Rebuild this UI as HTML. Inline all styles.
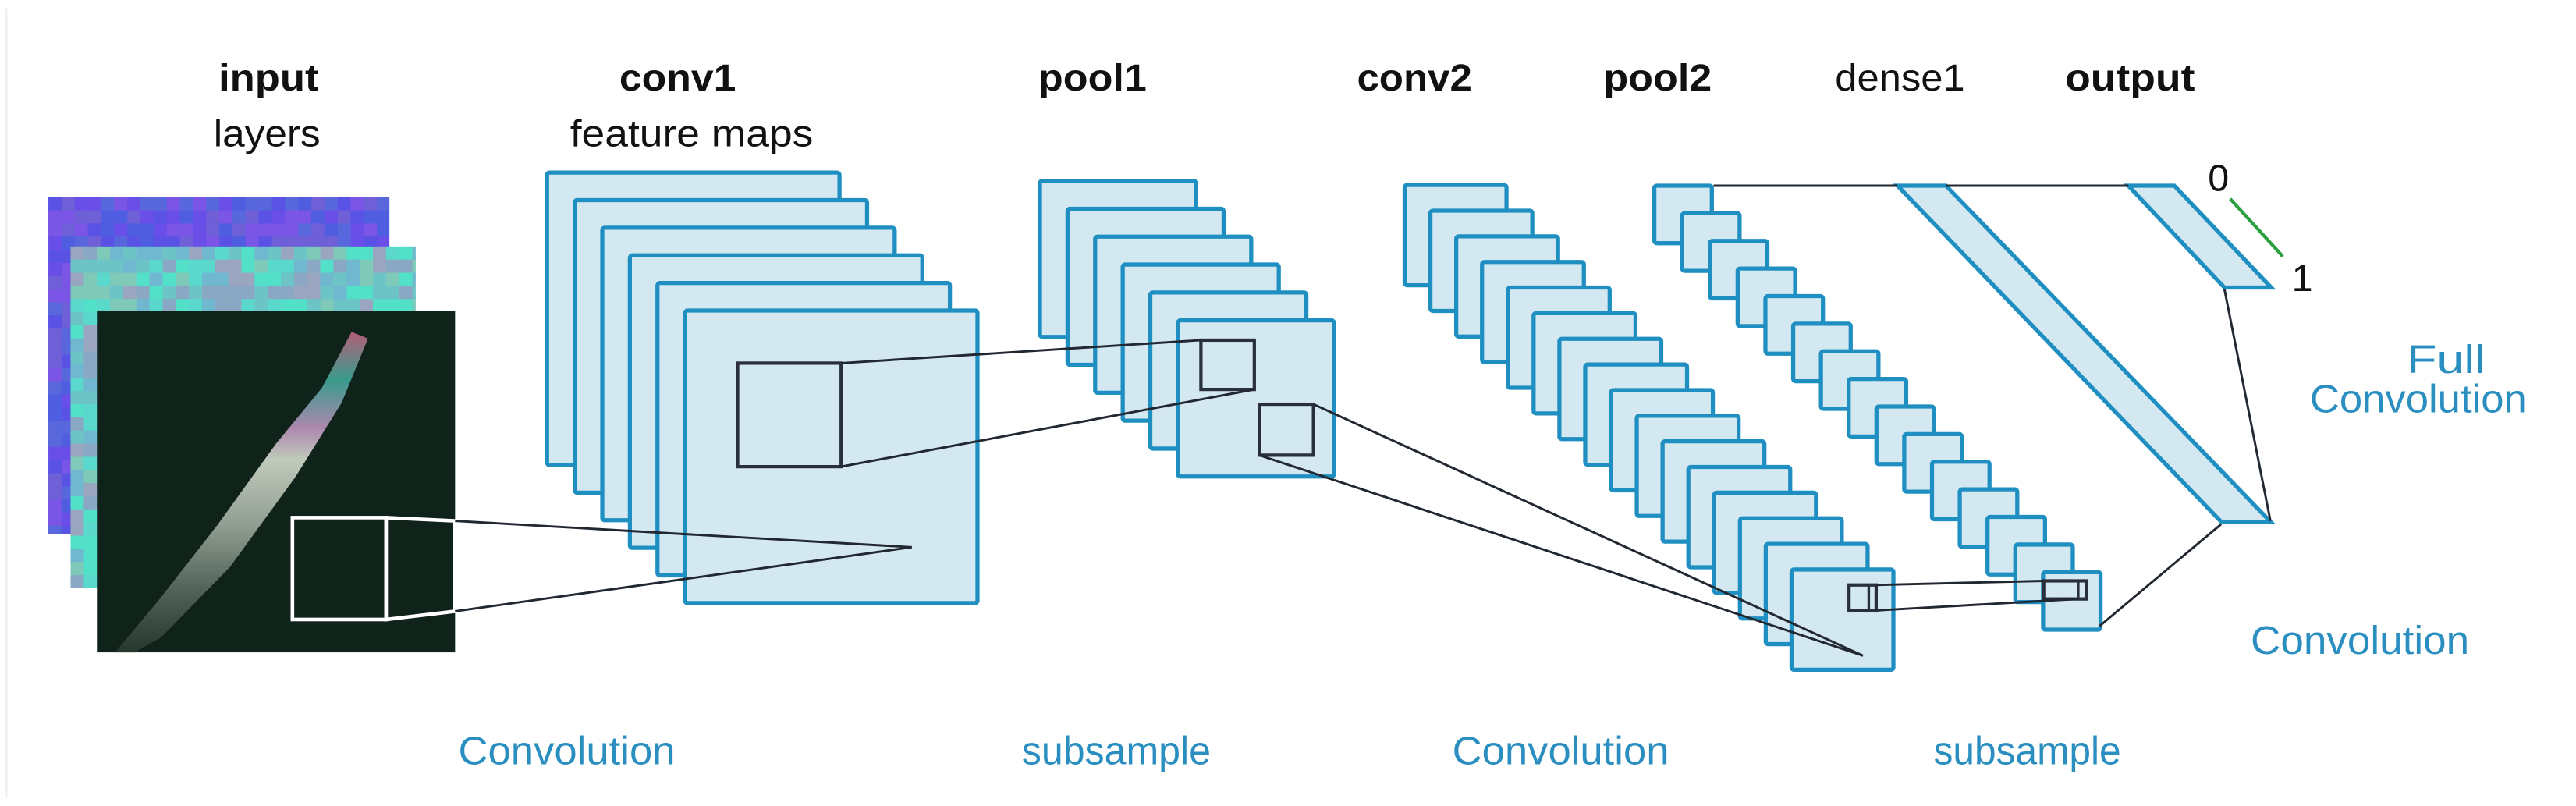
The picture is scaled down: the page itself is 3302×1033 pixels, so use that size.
<!DOCTYPE html>
<html><head><meta charset="utf-8">
<style>
html,body{margin:0;padding:0;background:#fff;}
svg{display:block;}
.t{font-family:"Liberation Sans",sans-serif;fill:#111;font-size:23px;}
.bd{font-weight:bold;}
.b{font-family:"Liberation Sans",sans-serif;fill:#2a8fc0;font-size:24px;}
.bx{fill:#d3e8f1;stroke:#1f8fc2;stroke-width:2.5;}
.ln{stroke:#222831;stroke-width:1.4;fill:none;}
</style></head>
<body>
<svg id="s" width="3302" height="1033" viewBox="0 0 1568 490.5" preserveAspectRatio="none" xmlns="http://www.w3.org/2000/svg">
<defs>
<linearGradient id="streak" x1="0" y1="0" x2="0" y2="1">
<stop offset="0" stop-color="#d06a8a"/>
<stop offset="0.15" stop-color="#40b0a0"/>
<stop offset="0.3" stop-color="#c89ac8"/>
<stop offset="0.4" stop-color="#e0e8d8"/>
<stop offset="0.6" stop-color="#a8b4a8"/>
<stop offset="0.8" stop-color="#5f6f64"/>
<stop offset="1" stop-color="#2a3a30"/>
</linearGradient>
</defs>
<line x1="4" y1="5" x2="4" y2="485" stroke="#eee" stroke-width="1"/>
<!-- top labels -->
<text class="t bd" x="133" y="55" textLength="61" lengthAdjust="spacingAndGlyphs">input</text>
<text class="t" x="130" y="89" textLength="65" lengthAdjust="spacingAndGlyphs">layers</text>
<text class="t bd" x="377" y="55" textLength="71" lengthAdjust="spacingAndGlyphs">conv1</text>
<text class="t" x="347" y="89" textLength="148" lengthAdjust="spacingAndGlyphs">feature maps</text>
<text class="t bd" x="632" y="55" textLength="66" lengthAdjust="spacingAndGlyphs">pool1</text>
<text class="t bd" x="826" y="55" textLength="70" lengthAdjust="spacingAndGlyphs">conv2</text>
<text class="t bd" x="976" y="55" textLength="66" lengthAdjust="spacingAndGlyphs">pool2</text>
<text class="t" x="1117" y="55" font-size="20" textLength="79" lengthAdjust="spacingAndGlyphs">dense1</text>
<text class="t bd" x="1257" y="55" textLength="79" lengthAdjust="spacingAndGlyphs">output</text>
<!-- bottom labels -->
<text class="b" x="279" y="465" textLength="132" lengthAdjust="spacingAndGlyphs">Convolution</text>
<text class="b" x="622" y="465" textLength="115" lengthAdjust="spacingAndGlyphs">subsample</text>
<text class="b" x="884" y="465" textLength="132" lengthAdjust="spacingAndGlyphs">Convolution</text>
<text class="b" x="1177" y="465" textLength="114" lengthAdjust="spacingAndGlyphs">subsample</text>
<text class="b" x="1370" y="398" textLength="133" lengthAdjust="spacingAndGlyphs">Convolution</text>
<text class="b" x="1465" y="227" textLength="48" lengthAdjust="spacingAndGlyphs">Full</text>
<text class="b" x="1406" y="251" textLength="132" lengthAdjust="spacingAndGlyphs">Convolution</text>
<!-- input images -->
<g id="purple"><rect x="29.5" y="120" width="207.5" height="205" fill="#5a52e4"/></g>
<g id="cyan"><rect x="43" y="150" width="210" height="208" fill="#6cc4c6"/></g>
<rect x="59" y="189" width="218" height="208" fill="#10231a"/>
<polygon points="214,202 224,206 208,245 180,290 140,345 98,388 82,397 70,397 96,366 132,320 168,270 196,236" fill="url(#streak)" opacity="0.85"/>
<rect x="178" y="315" width="57" height="62" fill="none" stroke="#fff" stroke-width="2.2"/>
<polygon points="235,315 277,317 277,372 235,377" fill="none" stroke="#fff" stroke-width="2.2"/>
<!-- conv1 -->
<g id="c1"></g>
<rect x="449" y="221" width="63" height="63" fill="none" stroke="#2a2f3c" stroke-width="2"/>
<!-- pool1 -->
<g id="p1"></g>
<rect x="731" y="207" width="32.5" height="30" fill="none" stroke="#2a2f3c" stroke-width="2"/>
<rect x="766.5" y="246" width="33" height="31" fill="none" stroke="#2a2f3c" stroke-width="2"/>
<!-- conv2 -->
<g id="c2"></g>
<!-- pool2 -->
<g id="p2"></g>
<!-- dense / output -->
<polygon class="bx" points="1155,113 1184.5,113 1382,317.5 1352,317.5"/>
<polygon class="bx" points="1295.5,113 1323.5,113 1382.5,175 1354,175"/>
<!-- lines -->
<line class="ln" x1="277" y1="317" x2="555" y2="333"/>
<line class="ln" x1="277" y1="372" x2="555" y2="333"/>
<line class="ln" x1="512" y1="221" x2="731" y2="207"/>
<line class="ln" x1="512" y1="284" x2="763.5" y2="237"/>
<line class="ln" x1="799.5" y1="246" x2="1134" y2="399"/>
<line class="ln" x1="766.5" y1="277" x2="1134" y2="399"/>
<line class="ln" x1="1043" y1="113" x2="1155" y2="113"/>
<line class="ln" x1="1184.5" y1="113" x2="1295.5" y2="113"/>
<line class="ln" x1="1354" y1="176" x2="1382" y2="317"/>
<line class="ln" x1="1352" y1="319" x2="1278" y2="381"/>
<rect x="1125.5" y="356" width="16.5" height="15.5" fill="none" stroke="#2a2f3c" stroke-width="2"/>
<line x1="1137.5" y1="356" x2="1137.5" y2="371.5" stroke="#2a2f3c" stroke-width="1.6"/>
<rect x="1244" y="353.5" width="26" height="11" fill="none" stroke="#2a2f3c" stroke-width="2"/>
<line x1="1265" y1="353.5" x2="1265" y2="364.5" stroke="#2a2f3c" stroke-width="1.6"/>
<line class="ln" x1="1142" y1="356" x2="1244" y2="353.5"/>
<line class="ln" x1="1142" y1="371.5" x2="1265" y2="364.5"/>
<!-- 0/1 -->
<text class="t" x="1344" y="116" font-size="20">0</text>
<text class="t" x="1395" y="177" font-size="20">1</text>
<line x1="1357.5" y1="121" x2="1389.5" y2="156" stroke="#2aa040" stroke-width="2"/>
</svg>
<script>
(function(){
var NS="http://www.w3.org/2000/svg";
function r(g,x,y,w,h,cls,fill){var e=document.createElementNS(NS,"rect");e.setAttribute("x",x);e.setAttribute("y",y);e.setAttribute("width",w);e.setAttribute("height",h);if(cls){e.setAttribute("class",cls);e.setAttribute("rx","1.5");}if(fill)e.setAttribute("fill",fill);g.appendChild(e);}
function stack(id,x0,y0,w,h,dx,dy,n){var g=document.getElementById(id);for(var i=0;i<n;i++)r(g,x0+i*dx,y0+i*dy,w,h,"bx");}
stack("c1",333,105,178,178,16.8,16.8,6);
stack("p1",633,110,95,95,16.8,17,6);
stack("c2",855,112.6,62,61,15.7,15.6,16);
stack("p2",1007,113,35,35,16.9,16.8,15);
var seed=7;function rnd(){seed=(seed*16807)%2147483647;return seed/2147483647;}
var pg=document.getElementById("purple"),cg=document.getElementById("cyan");
var pc=["#5a52e4","#6a4ee8","#4f5de0","#7a55e6","#5868dc","#6f60d8"];
for(var yy=120;yy<325;yy+=8)for(var xx=29.5;xx<237;xx+=8){r(pg,xx,yy,Math.min(8,237-xx),Math.min(8,325-yy),null,pc[Math.floor(rnd()*pc.length)]);}
var cc=["#6cc4c6","#5ad8cc","#8aa8c4","#70b8d0","#52e0c8","#9aa6c0","#7fc9b8"];
for(var yy=150;yy<358;yy+=8)for(var xx=43;xx<253;xx+=8){r(cg,xx,yy,Math.min(8,253-xx),Math.min(8,358-yy),null,cc[Math.floor(rnd()*cc.length)]);}
})();
</script>
</body></html>
